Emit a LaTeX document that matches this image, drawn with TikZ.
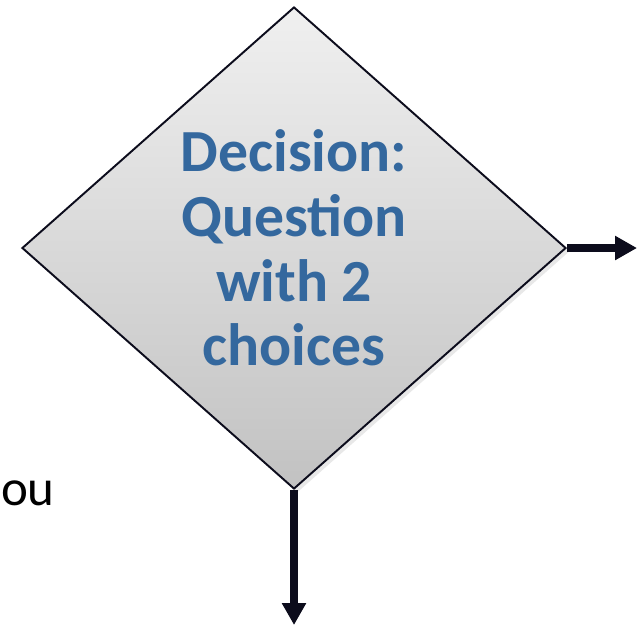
\documentclass[tikz,border=0pt]{standalone}
\usepackage{fontspec}
\setmainfont{Carlito}
\usetikzlibrary{arrows.meta,shapes.geometric,shadows}

\definecolor{qblue}{RGB}{52,104,158}
\definecolor{ink}{RGB}{12,12,28}

\begin{document}
\begin{tikzpicture}[
	decision/.style={diamond, draw=ink, line width=1.1pt, inner sep=0pt,
		top color=gray!12, bottom color=gray!48,
		drop shadow={shadow xshift=2pt, shadow yshift=-2pt, opacity=.18}},
	flow/.style={draw=ink, line width=4pt, -{Triangle[length=.44cm,width=.46cm]}}
	]
			\useasboundingbox (0,0) rectangle (12.88,-12.58);
			
			\node[decision, minimum width=10.88cm, minimum height=9.64cm,
				align=center, text=qblue, font=\bfseries\fontsize{34}{36.8}\selectfont]
				(dec) at (5.88,-4.96) {Decision:\\Question\\with 2\\choices};
			
			\coordinate (yes) at (12.74,-4.96); \draw[flow] (dec.east) -- (yes);
			\coordinate (no) at (5.88,-12.5); \draw[flow] (dec.south) -- (no);
			
			\node[anchor=base east, inner sep=0pt, font=\fontsize{29}{32}\selectfont] (cut) at (1.1,-10.1) {ou};
			\end{tikzpicture}
\end{document}
